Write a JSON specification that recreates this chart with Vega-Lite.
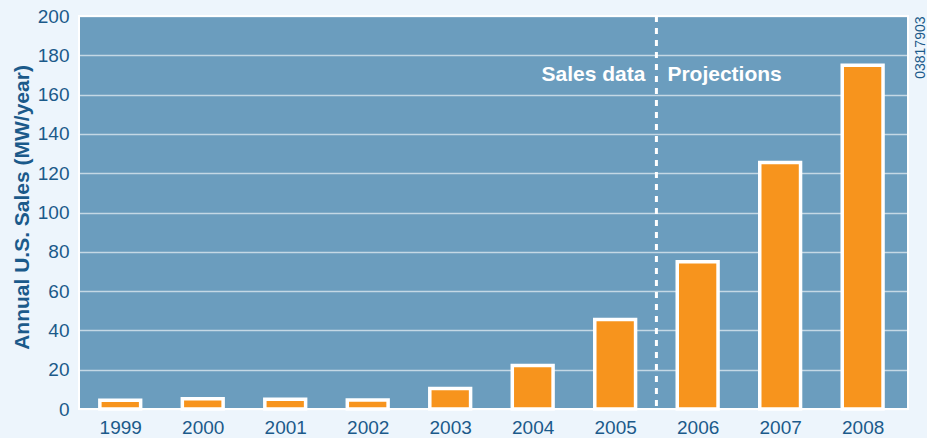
{
  "$schema": "https://vega.github.io/schema/vega-lite/v6.json",
  "width": 829,
  "height": 393,
  "autosize": {"type": "none"},
  "padding": {"left": 79, "top": 16, "right": 19, "bottom": 29},
  "background": "#edf5fc",
  "config": {
    "view": {"fill": "#6b9dbe", "stroke": "#ffffff", "strokeWidth": 2},
    "font": "Liberation Sans"
  },
  "datasets": {
    "sales": [
      {"year": 1999, "sales": 4.4},
      {"year": 2000, "sales": 5.2},
      {"year": 2001, "sales": 5.0},
      {"year": 2002, "sales": 4.6},
      {"year": 2003, "sales": 10.4},
      {"year": 2004, "sales": 22.1},
      {"year": 2005, "sales": 45.6},
      {"year": 2006, "sales": 75.0},
      {"year": 2007, "sales": 125.5},
      {"year": 2008, "sales": 175.0}
    ],
    "divider": [{"year": 2005.5}],
    "labels": [
      {"label": "Sales data", "side": "left"},
      {"label": "Projections", "side": "right"}
    ]
  },
  "resolve": {"axis": {"y": "independent"}},
  "layer": [
    {
      "data": {"name": "sales"},
      "mark": {"type": "bar", "width": 40.8, "fill": "#f7941d", "stroke": "#ffffff", "strokeWidth": 3.5},
      "encoding": {
        "x": {
          "field": "year",
          "type": "quantitative",
          "scale": {"domain": [1998.5, 2008.55], "nice": false, "zero": false, "padding": 0},
          "axis": {
            "values": [1999, 2000, 2001, 2002, 2003, 2004, 2005, 2006, 2007, 2008],
            "format": "d",
            "grid": false,
            "ticks": false,
            "domain": false,
            "labelFontSize": 19,
            "labelColor": "#1b5a8a",
            "labelPadding": 9,
            "labelFlush": false,
            "title": null
          }
        },
        "y": {
          "field": "sales",
          "type": "quantitative",
          "scale": {"domain": [0, 200], "nice": false, "padding": 0},
          "axis": {
            "values": [0, 20, 40, 60, 80, 100, 120, 140, 160, 180, 200],
            "grid": true,
            "gridColor": "#ffffff",
            "gridOpacity": 0.6,
            "gridWidth": 1.5,
            "ticks": false,
            "domain": false,
            "labelFontSize": 19,
            "labelColor": "#1b5a8a",
            "labelPadding": 10,
            "title": "Annual U.S. Sales (MW/year)",
            "titleFontSize": 21,
            "titleFontWeight": "bold",
            "titleColor": "#1b5a8a",
            "titlePadding": 5,
            "titleY": 191
          }
        }
      }
    },
    {
      "data": {"name": "divider"},
      "mark": {"type": "rule", "stroke": "#ffffff", "strokeWidth": 3, "strokeDash": [6, 6]},
      "encoding": {"x": {"field": "year", "type": "quantitative"}}
    },
    {
      "data": {"name": "labels"},
      "transform": [{"filter": "datum.side == 'left'"}],
      "mark": {"type": "text", "align": "right", "baseline": "alphabetic", "dx": -11, "fontSize": 21, "fontWeight": "bold", "color": "#ffffff"},
      "encoding": {
        "x": {"datum": 2005.5, "type": "quantitative"},
        "y": {"datum": 167, "type": "quantitative", "axis": null},
        "text": {"field": "label"}
      }
    },
    {
      "data": {"name": "labels"},
      "transform": [{"filter": "datum.side == 'right'"}],
      "mark": {"type": "text", "align": "left", "baseline": "alphabetic", "dx": 11, "fontSize": 21, "fontWeight": "bold", "color": "#ffffff"},
      "encoding": {
        "x": {"datum": 2005.5, "type": "quantitative"},
        "y": {
          "datum": 167,
          "type": "quantitative",
          "axis": {
            "orient": "right",
            "labels": false,
            "ticks": false,
            "domain": false,
            "grid": false,
            "title": "03817903",
            "titleAngle": 270,
            "titleAnchor": "end",
            "titleBaseline": "top",
            "titleFontSize": 14,
            "titleFontWeight": "normal",
            "titleColor": "#1b5a8a",
            "titlePadding": 5
          }
        },
        "text": {"field": "label"}
      }
    }
  ]
}
